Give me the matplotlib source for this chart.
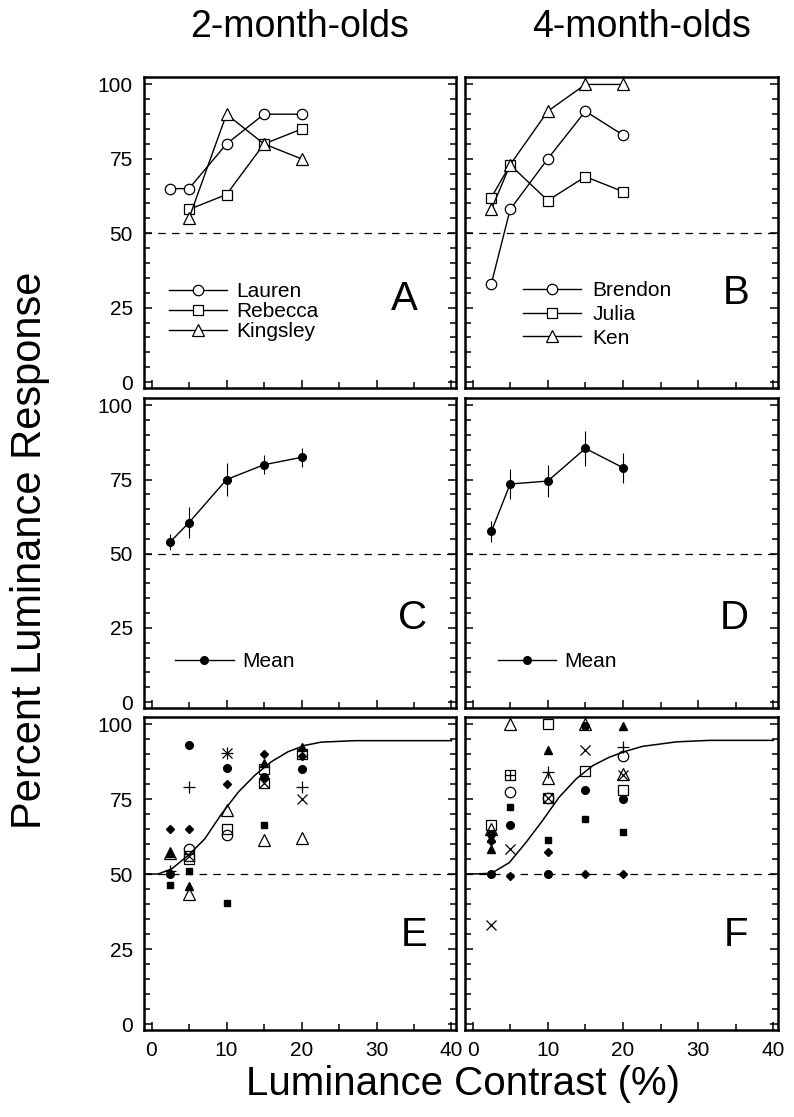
import numpy as np
import matplotlib
matplotlib.use("Agg")
import matplotlib.pyplot as plt

plt.rcParams['font.family'] = ['Liberation Sans', 'DejaVu Sans']

nan = np.nan

# contrast levels (%) used in every panel
contrast = [2.5, 5, 10, 15, 20]

# A: 2-month-olds, single infants
lauren = [65, 65, 80, 90, 90]
rebecca = [nan, 58, 63, 80, 85]
kingsley = [nan, 55, 90, 80, 75]

# B: 4-month-olds, single infants
brendon = [33, 58, 75, 91, 83]
julia = [62, 73, 61, 69, 64]
ken = [58, 73, 91, 100, 100]

# C / D: group means with error bars
mean_2mo = [54, 60.5, 75, 80, 82.5]
err_2mo = [2.7, 5.3, 5.5, 3.2, 3.1]
mean_4mo = [57.5, 73.5, 74.5, 85.5, 79]
err_4mo = [3.5, 5.0, 5.4, 5.9, 5.1]

# E: all 2-month-old sessions, (contrast, percent) per symbol
e_dot = [(2.5, 50), (5, 93), (10, 85.5), (15, 82.5), (20, 85)]
e_box = [(2.5, 46.5), (5, 51), (10, 40.5), (15, 66.5)]
e_diamond = [(2.5, 65), (5, 65), (10, 80), (15, 90), (20, 89.5)]
e_tri = [(2.5, 57), (5, 46), (15, 87), (20, 92.5)]
e_ocircle = [(5, 58.5), (10, 63)]
e_osquare = [(5, 55), (10, 65), (15, 85), (20, 90)]
e_otri = [(2.5, 57), (5, 43.5), (10, 71.5), (15, 61.5), (20, 62)]
e_plus = [(2.5, 51), (5, 79), (10, 90.5), (20, 79)]
e_cross = [(10, 90.5), (20, 75)]
e_xsquare = [(5, 56), (15, 80.5)]
e_psquare = []

# F: all 4-month-old sessions
f_dot = [(2.5, 63.5), (2.5, 50), (5, 66.5), (10, 50), (15, 99.5), (15, 78), (20, 75)]
f_box = [(5, 72.5), (10, 61.5), (15, 68.5), (20, 64)]
f_diamond = [(2.5, 61), (5, 49.5), (10, 57.5), (15, 50), (20, 50)]
f_tri = [(2.5, 58.5), (2.5, 62), (10, 91.5), (20, 99.5)]
f_ocircle = [(5, 77.5), (10, 75.5), (20, 89.5)]
f_osquare = [(2.5, 66.5), (10, 100), (15, 84.5), (20, 78)]
f_otri = [(2.5, 65), (5, 100), (10, 82), (15, 100), (20, 83.5)]
f_plus = [(10, 84), (20, 92.5)]
f_cross = [(2.5, 33), (5, 58.5), (15, 91.5), (20, 83)]
f_xsquare = [(10, 75.5)]
f_psquare = [(5, 83)]

# fitted curves
e_fit_x = [-1, 0.9, 2.7, 4.9, 7.1, 9.35, 11.6, 13.8, 16, 18.2, 20.4, 22.6, 27.1, 40]
e_fit_y = [50, 50.1, 51.8, 56.3, 61.8, 70.2, 77.5, 83.1, 87.6, 90.9, 93, 94.1, 94.6, 94.6]
f_fit_x = [-1, 2.5, 4.9, 7.1, 9.3, 11.5, 13.8, 16, 18.2, 20.4, 22.6, 27.1, 31.5, 40]
f_fit_y = [50, 50.3, 53.9, 60.6, 67.9, 75.7, 81.9, 86.3, 89.1, 91.1, 92.7, 94.2, 94.7, 94.7]

W, H = 794, 1117
fig = plt.figure(figsize=(W / 100, H / 100), dpi=100)


def make_ax(x0, x1, y0, y1):
    ax = fig.add_axes([x0 / W, 1 - y1 / H, (x1 - x0) / W, (y1 - y0) / H])
    ax.set_xlim(-1, 40.6)
    ax.set_ylim(-2, 102.5)
    ax.set_xticks([0, 10, 20, 30, 40])
    ax.set_xticks([5, 15, 25, 35], minor=True)
    ax.set_yticks([0, 25, 50, 75, 100])
    ax.set_yticks(np.arange(0, 101, 5), minor=True)
    ax.tick_params(which='both', direction='in', left=True, right=True,
                   top=False, bottom=True, width=1.1, labelsize=15, pad=8)
    ax.tick_params(which='major', length=5.5)
    ax.tick_params(which='minor', length=4)
    for s in ax.spines.values():
        s.set_linewidth(1.8)
    ax.axhline(50, color='black', lw=0.9, ls=(0, (6, 5)), zorder=1)
    return ax


cols = [(144, 456), (465, 778)]
rows = [(77, 388), (398, 708), (717, 1030)]
axes = [[make_ax(c[0], c[1], r[0], r[1]) for c in cols] for r in rows]

for i in range(3):
    for j in range(2):
        ax = axes[i][j]
        if j == 1:
            ax.set_yticklabels([])
        if i < 2:
            ax.set_xticklabels([])

line_kw = dict(color='black', lw=1.0, mfc='white', mec='black', mew=0.9)

# A
ax = axes[0][0]
ax.plot(contrast, lauren, marker='o', ms=7.5, label='Lauren', **line_kw)
ax.plot(contrast, rebecca, marker='s', ms=7.5, label='Rebecca', **line_kw)
ax.plot(contrast, kingsley, marker='^', ms=8, label='Kingsley', **line_kw)
ax.legend(loc='lower left', bbox_to_anchor=(0.08, 0.15), frameon=False,
          fontsize=15, handlelength=2.8, handletextpad=0.45, labelspacing=0.05,
          borderpad=0, borderaxespad=0, numpoints=1)
ax.text(0.835, 0.285, 'A', transform=ax.transAxes, fontsize=29, ha='center', va='center')

# B
ax = axes[0][1]
ax.plot(contrast, brendon, marker='o', ms=7.5, label='Brendon', **line_kw)
ax.plot(contrast, julia, marker='s', ms=7.5, label='Julia', **line_kw)
ax.plot(contrast, ken, marker='^', ms=8, label='Ken', **line_kw)
ax.legend(loc='lower left', bbox_to_anchor=(0.185, 0.13), frameon=False,
          fontsize=15, handlelength=2.8, handletextpad=0.55, labelspacing=0.22,
          borderpad=0, borderaxespad=0, numpoints=1)
ax.text(0.865, 0.305, 'B', transform=ax.transAxes, fontsize=29, ha='center', va='center')

# C, D
for ax, m, e, letter, leg_x in [(axes[1][0], mean_2mo, err_2mo, 'C', 0.1),
                                (axes[1][1], mean_4mo, err_4mo, 'D', 0.105)]:
    ax.errorbar(contrast, m, yerr=e, fmt='none', ecolor='black',
                elinewidth=0.8, capsize=0)
    ax.plot(contrast, m, '-o', color='black', lw=1.0, ms=5.5, label='Mean')
    ax.legend(loc='lower left', bbox_to_anchor=(leg_x, 0.12), frameon=False,
              fontsize=15, handlelength=2.8, handletextpad=0.4,
              borderpad=0, borderaxespad=0, numpoints=1)
    ax.text(0.86, 0.29, letter, transform=ax.transAxes, fontsize=29,
            ha='center', va='center')


def scatter_sessions(ax, groups):
    for pts, kw in groups:
        if not pts:
            continue
        xs = [p[0] for p in pts]
        ys = [p[1] for p in pts]
        ax.plot(xs, ys, ls='none', color='black', clip_on=False, **kw)


filled = dict(mfc='black', mec='black')
hollow = dict(mfc='none', mec='black', mew=0.9)

for ax, data, fx, fy, letter in [
        (axes[2][0], (e_dot, e_box, e_diamond, e_tri, e_ocircle, e_osquare, e_otri,
                      e_plus, e_cross, e_xsquare, e_psquare), e_fit_x, e_fit_y, 'E'),
        (axes[2][1], (f_dot, f_box, f_diamond, f_tri, f_ocircle, f_osquare, f_otri,
                      f_plus, f_cross, f_xsquare, f_psquare), f_fit_x, f_fit_y, 'F')]:
    dot, box, dia, tri, oc, osq, otri, plus, cross, xsq, psq = data
    ax.plot(fx, fy, color='black', lw=1.1, zorder=2)
    scatter_sessions(ax, [
        (dot, dict(marker='o', ms=5.5, **filled)),
        (box, dict(marker='s', ms=5, **filled)),
        (dia, dict(marker='D', ms=4.2, **filled)),
        (tri, dict(marker='^', ms=5.5, **filled)),
        (oc, dict(marker='o', ms=7.5, **hollow)),
        (osq, dict(marker='s', ms=7.5, **hollow)),
        (otri, dict(marker='^', ms=8, **hollow)),
        (plus, dict(marker='+', ms=8, mew=0.9, mec='black')),
        (cross, dict(marker='x', ms=7, mew=0.9, mec='black')),
        (xsq, dict(marker='s', ms=7.5, **hollow)),
        (xsq, dict(marker='x', ms=6.5, mew=0.9, mec='black')),
        (psq, dict(marker='s', ms=7.5, **hollow)),
        (psq, dict(marker='+', ms=7.5, mew=0.9, mec='black')),
    ])
    ax.text(0.865, 0.305, letter, transform=ax.transAxes, fontsize=29,
            ha='center', va='center')

fig.text(300 / W, 1 - 27 / H, '2-month-olds', fontsize=27, ha='center', va='center')
fig.text(642 / W, 1 - 27 / H, '4-month-olds', fontsize=27, ha='center', va='center')
fig.text(30 / W, 1 - 550 / H, 'Percent Luminance Response', fontsize=30,
         rotation=90, ha='center', va='center')
fig.text(463 / W, 1 - 1084 / H, 'Luminance Contrast (%)', fontsize=29,
         ha='center', va='center')

fig.savefig('out.png', dpi=100)
